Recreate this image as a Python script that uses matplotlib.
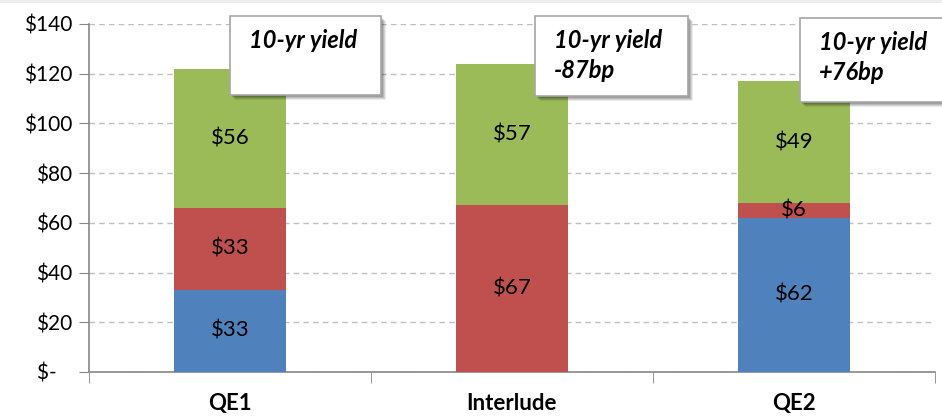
import matplotlib
matplotlib.use('Agg')
import matplotlib.pyplot as plt
from matplotlib.patches import Rectangle
import numpy as np

plt.rcParams['font.family'] = ['Lato', 'DejaVu Sans']

categories = ['QE1', 'Interlude', 'QE2']
blue_vals = [33, 0, 62]
red_vals = [33, 67, 6]
green_vals = [56, 57, 49]
ytick_vals = [0, 20, 40, 60, 80, 100, 120, 140]
ytick_labels = ['$-   ', '$20', '$40', '$60', '$80', '$100', '$120', '$140']
box_texts = ['10-yr yield', '10-yr yield\n-87bp', '10-yr yield\n+76bp']

c_blue = '#4F81BD'
c_red = '#C0504D'
c_green = '#9BBB59'
axis_grey = '#868686'

W, H = 942, 417
fig = plt.figure(figsize=(W / 100, H / 100), dpi=100)
ax = fig.add_axes([89 / W, (H - 372) / H, (935 - 89) / W, (372 - 24) / H])

x = np.arange(len(categories))
bw = 0.4
blue = np.array(blue_vals)
red = np.array(red_vals)
green = np.array(green_vals)
ax.bar(x, blue, bw, color=c_blue, zorder=3)
ax.bar(x, red, bw, bottom=blue, color=c_red, zorder=3)
ax.bar(x, green, bw, bottom=blue + red, color=c_green, zorder=3)

# segment labels
for i in range(len(categories)):
    segs = [(blue[i], 0), (red[i], blue[i]), (green[i], blue[i] + red[i])]
    for v, b in segs:
        if v > 0:
            ax.text(x[i], b + v / 2, '${}'.format(v), ha='center', va='center',
                    fontsize=16, color='black', zorder=4)

ax.set_xlim(-0.5, 2.5)
ax.set_ylim(0, 140)
ax.set_yticks(ytick_vals)
ax.set_yticklabels(ytick_labels, fontsize=15)
ax.set_xticks(x)
ax.set_xticklabels(categories, fontsize=16, fontweight='bold')
ax.tick_params(axis='x', length=0, pad=15)
ax.set_xticks([-0.5, 0.5, 1.5, 2.5], minor=True)
ax.tick_params(axis='x', which='minor', length=8, color=axis_grey, direction='out')
ax.tick_params(axis='y', length=7, color=axis_grey, pad=5)
ax.yaxis.grid(True, linestyle='--', color='#BFBFBF', linewidth=1, dashes=(4, 3))
ax.set_axisbelow(True)
for s in ['top', 'right']:
    ax.spines[s].set_visible(False)
for s in ['left', 'bottom']:
    ax.spines[s].set_color(axis_grey)
    ax.spines[s].set_linewidth(1.2)

# thin light band along the top edge
fig.add_artist(Rectangle((0, 1 - 3 / H), 1, 3 / H, transform=fig.transFigure,
                         facecolor='#EDEDED', edgecolor='none', zorder=1))

# annotation boxes (pixel coords: x0, y0 top, x1, y1 bottom)
boxes = [(230, 16, 381, 95), (535, 16, 688, 96), (800, 18, 960, 102)]
for (x0, y0, x1, y1), txt in zip(boxes, box_texts):
    for k, a in enumerate([0.08, 0.10, 0.12, 0.14]):
        off = 5 - k
        fig.add_artist(Rectangle(((x0 + off) / W, (H - y1 - off) / H),
                                 (x1 - x0) / W, (y1 - y0) / H,
                                 transform=fig.transFigure, facecolor='black',
                                 edgecolor='none', alpha=a, zorder=5))
    fig.add_artist(Rectangle((x0 / W, (H - y1) / H), (x1 - x0) / W, (y1 - y0) / H,
                             transform=fig.transFigure, facecolor='white',
                             edgecolor='#A6A6A6', linewidth=1.2, zorder=6))
    fig.text((x0 + 19) / W, (H - y0 - 13) / H, txt, ha='left', va='top',
             fontsize=17, fontweight='bold', fontstyle='italic',
             linespacing=1.35, zorder=7)

fig.savefig('out.png', dpi=100)
